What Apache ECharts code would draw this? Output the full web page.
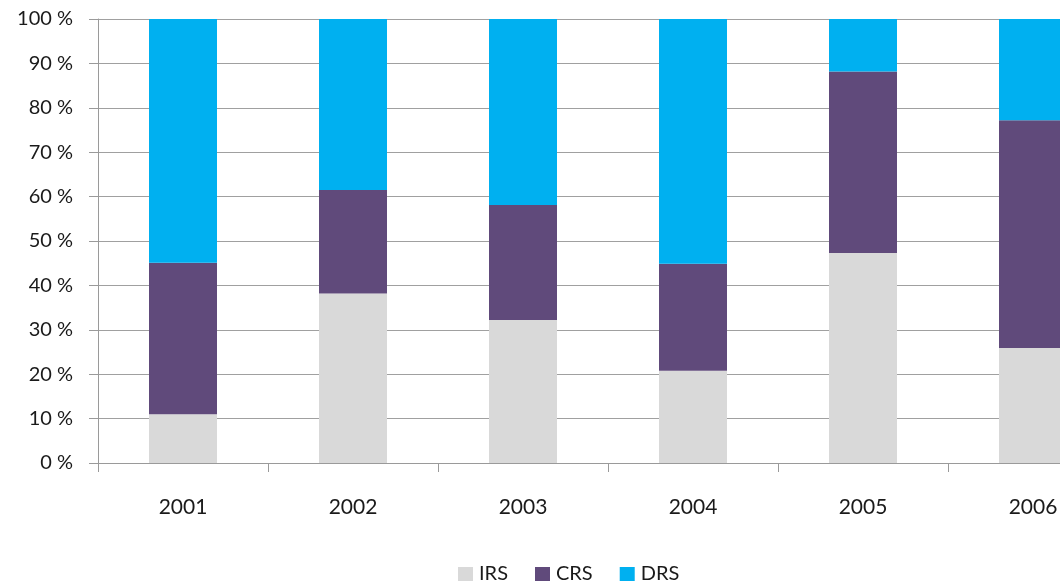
<!DOCTYPE html>
<html>
<head>
<meta charset="utf-8">
<script src="https://cdn.jsdelivr.net/npm/echarts@6/dist/echarts.min.js"></script>
<style>
  html, body { margin: 0; padding: 0; background: #ffffff; }
  #chart { width: 1060px; height: 585px; }
</style>
</head>
<body>
<div id="chart"></div>
<script>
// Years on the category axis
const years = ['2001', '2002', '2003', '2004', '2005', '2006'];
// Share of each scheme per year, in percent (stacks sum to 100)
const irs = [11.0, 38.2, 32.2, 20.8, 47.3, 25.9];
const crs = [34.1, 23.3, 25.9, 24.1, 40.9, 51.3];
const drs = [54.9, 38.5, 41.9, 55.1, 11.8, 22.8];
// Value axis tick labels
const yTicks = ['0 %', '10 %', '20 %', '30 %', '40 %', '50 %', '60 %', '70 %', '80 %', '90 %', '100 %'];

const FONT = 'Lato, "Open Sans", sans-serif';
const TEXT = '#1a1a1a';
const AXIS = '#9a9a9a';
const chart = echarts.init(document.getElementById('chart'), null, { renderer: 'canvas' });

function barSeries(name, data, color) {
  return {
    name: name,
    type: 'bar',
    stack: 'total',
    data: data,
    barWidth: '40%',
    itemStyle: { color: color },
    emphasis: { disabled: true }
  };
}

chart.setOption({
  animation: false,
  backgroundColor: '#ffffff',
  // the plot runs past the right edge, so the last year is cut off
  grid: { left: 98, top: 19, width: 1020, height: 444, containLabel: false, outerBoundsMode: 'none' },
  legend: {
    left: 458,
    top: 560,
    padding: 0,
    itemWidth: 15,
    itemHeight: 14,
    itemGap: 27,
    icon: 'rect',
    textStyle: { fontFamily: FONT, fontSize: 20, color: TEXT, padding: [0, 0, 0, 1], lineHeight: 28 },
    data: ['IRS', 'CRS', 'DRS']
  },
  xAxis: {
    type: 'category',
    data: years,
    axisLine: { lineStyle: { color: AXIS, width: 1 } },
    axisTick: { show: true, length: 9, lineStyle: { color: AXIS } },
    axisLabel: { fontFamily: FONT, fontSize: 21, color: TEXT, margin: 34 }
  },
  yAxis: {
    type: 'value',
    min: 0,
    max: 100,
    interval: 10,
    axisLine: { show: true, lineStyle: { color: AXIS, width: 1 } },
    axisTick: { show: true, length: 9, lineStyle: { color: AXIS } },
    splitLine: { show: true, lineStyle: { color: '#a0a0a0', width: 1.2 } },
    axisLabel: {
      fontFamily: FONT, fontSize: 20, color: TEXT, margin: 25,
      formatter: function (v) { return yTicks[Math.round(v / 10)]; }
    }
  },
  series: [
    barSeries('IRS', irs, '#d9d9d9'),
    barSeries('CRS', crs, '#604a7b'),
    barSeries('DRS', drs, '#00b0f0')
  ]
});
</script>
</body>
</html>
